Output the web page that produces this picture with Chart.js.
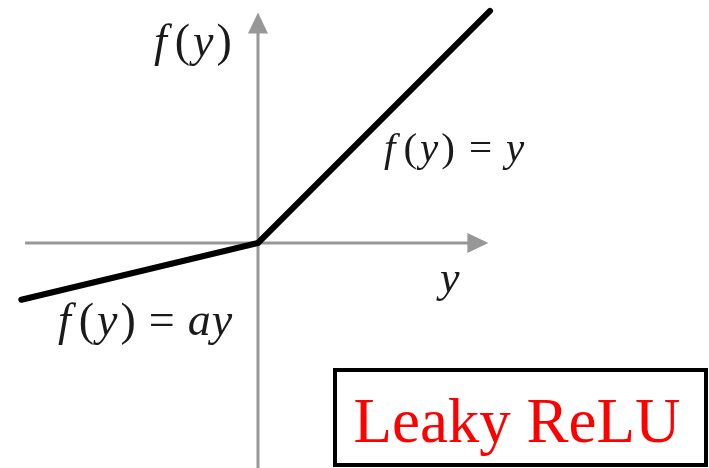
<!DOCTYPE html>
<html>
<head>
<meta charset="utf-8">
<title>Leaky ReLU</title>
<script src="https://cdn.jsdelivr.net/npm/chart.js@4.4.1/dist/chart.umd.min.js"></script>
<style>
  html, body { margin: 0; padding: 0; background: #fff; }
  #wrap { width: 709px; height: 468px; }
</style>
</head>
<body>
<div id="wrap"><canvas id="reluChart" width="709" height="468"></canvas></div>
<script>
// Leaky ReLU: f(y) = y for y > 0, f(y) = a*y for y <= 0
const inputs = [-1.02, 0, 1];
const outputs = [-0.245, 0, 1];

// visible window of the plot, in data units
const xRange = [-1.112, 1.944];
const yRange = [-0.97, 1.047];

// where the axis lines start and where their arrows end
const xAxisSpan = [-1.004, 0.993];
const yAxisSpan = [-0.97, 0.993];

const SERIF = '"Liberation Serif", "Times New Roman", Times, serif';
const AXIS_GREY = '#979797';

// draws a formula piece by piece: [text, italic, extra space after]
function drawMath(ctx, parts, x, y, size) {
    let cx = x;
    parts.forEach(([t, italic, gap]) => {
        ctx.font = (italic ? 'italic ' : '') + size + 'px ' + SERIF;
        ctx.fillText(t, cx, y);
        cx += ctx.measureText(t).width + (gap || 0);
    });
}

function arrowHead(ctx, tipX, tipY, dir) {
    const len = 21, half = 10;
    ctx.beginPath();
    if (dir === 'right') {
        ctx.moveTo(tipX, tipY);
        ctx.lineTo(tipX - len, tipY - half);
        ctx.lineTo(tipX - len, tipY + half);
    } else {
        ctx.moveTo(tipX, tipY);
        ctx.lineTo(tipX - half, tipY + len);
        ctx.lineTo(tipX + half, tipY + len);
    }
    ctx.closePath();
    ctx.fill();
}

// grey coordinate axes through the origin
const axesPlugin = {
    id: 'axes',
    beforeDatasetsDraw(chart) {
        const { ctx, scales: { x, y } } = chart;
        const ox = x.getPixelForValue(0);
        const oy = y.getPixelForValue(0);
        const x0 = x.getPixelForValue(xAxisSpan[0]);
        const x1 = x.getPixelForValue(xAxisSpan[1]);
        const y0 = y.getPixelForValue(yAxisSpan[0]);
        const y1 = y.getPixelForValue(yAxisSpan[1]);
        ctx.save();
        ctx.strokeStyle = AXIS_GREY;
        ctx.fillStyle = AXIS_GREY;
        ctx.lineWidth = 3;
        ctx.beginPath();
        ctx.moveTo(x0, oy);
        ctx.lineTo(x1 - 15, oy);
        ctx.moveTo(ox, y0);
        ctx.lineTo(ox, y1 + 15);
        ctx.stroke();
        arrowHead(ctx, x1, oy, 'right');
        arrowHead(ctx, ox, y1, 'up');
        ctx.restore();
    }
};

// formula labels and the boxed title
const labelsPlugin = {
    id: 'labels',
    afterDraw(chart) {
        const { ctx, scales: { x, y } } = chart;
        const ox = x.getPixelForValue(0);
        const oy = y.getPixelForValue(0);
        ctx.save();
        ctx.fillStyle = '#1a1a1a';
        ctx.textBaseline = 'alphabetic';
        ctx.textAlign = 'left';

        drawMath(ctx, [['f', true, 8], ['(', false, 3], ['y', true, 3], [')', false]],
            ox - 104, oy - 187, 46);
        drawMath(ctx, [['f', true, 8], ['(', false, 3], ['y', true, 3], [')', false, 14],
            ['=', false, 14], ['y', true]], ox + 126, oy - 82, 41);
        drawMath(ctx, [['f', true, 8], ['(', false, 3], ['y', true, 3], [')', false, 13],
            ['=', false, 13], ['a', true, 1], ['y', true]], ox - 200, oy + 92, 46);
        drawMath(ctx, [['y', true]], ox + 182, oy + 49, 44);

        // boxed title
        ctx.lineWidth = 4;
        ctx.strokeStyle = '#000';
        ctx.strokeRect(335, 370, 371, 95);
        ctx.fillStyle = '#ff0000';
        ctx.textAlign = 'center';
        ctx.font = '63px ' + SERIF;
        ctx.fillText('Leaky ReLU', 517, 442);
        ctx.restore();
    }
};

new Chart(document.getElementById('reluChart'), {
    type: 'line',
    data: {
        datasets: [{
            data: inputs.map((v, i) => ({ x: v, y: outputs[i] })),
            borderColor: '#000',
            borderWidth: 6,
            borderCapStyle: 'round',
            borderJoinStyle: 'miter',
            pointRadius: 0,
            tension: 0,
            fill: false
        }]
    },
    options: {
        responsive: false,
        animation: false,
        events: [],
        layout: { padding: 0 },
        plugins: { legend: { display: false }, tooltip: { enabled: false } },
        scales: {
            x: { type: 'linear', min: xRange[0], max: xRange[1], display: false },
            y: { type: 'linear', min: yRange[0], max: yRange[1], display: false }
        }
    },
    plugins: [axesPlugin, labelsPlugin]
});
</script>
</body>
</html>
